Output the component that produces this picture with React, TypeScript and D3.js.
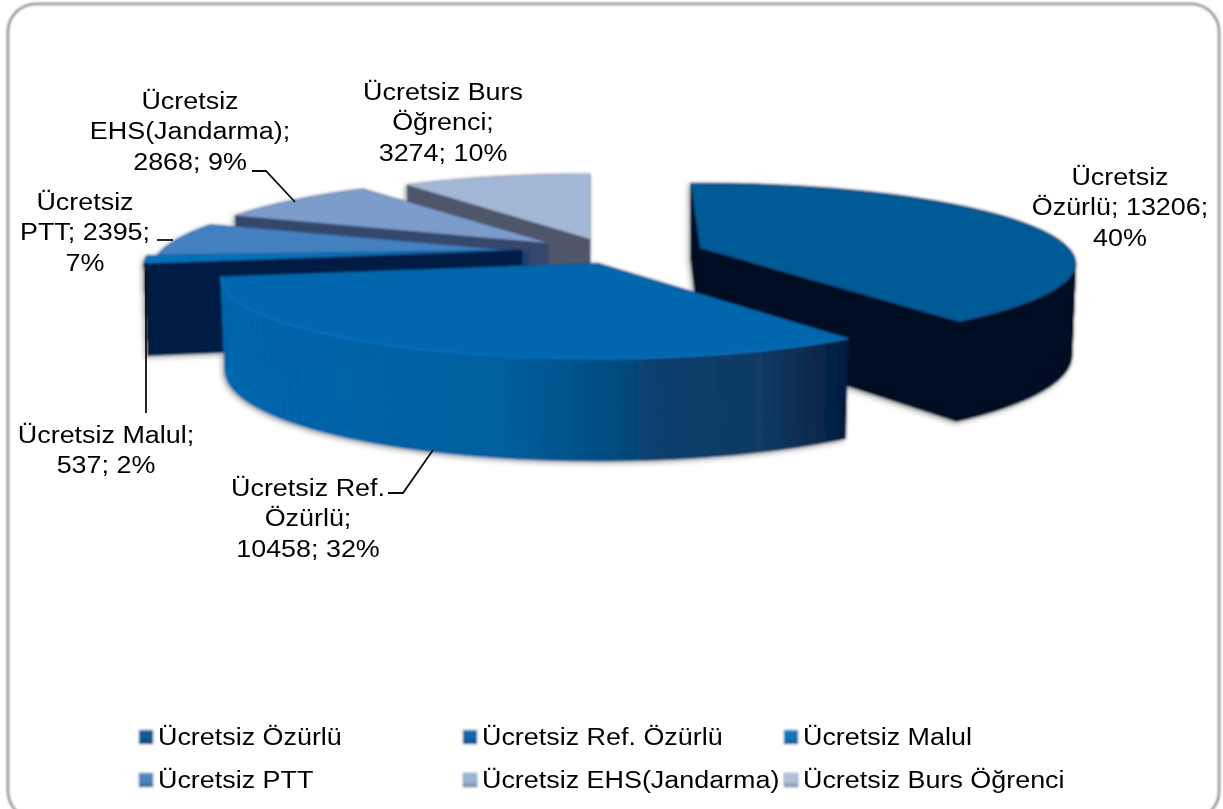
import React from "react";
import * as d3 from "d3";

const categories = ["Ücretsiz Özürlü", "Ücretsiz Ref. Özürlü", "Ücretsiz Malul", "Ücretsiz PTT", "Ücretsiz EHS(Jandarma)", "Ücretsiz Burs Öğrenci"];
const values = [13206, 10458, 537, 2395, 2868, 3274];
const percents = [40, 32, 2, 7, 9, 10];
const topColors = ["#005a96", "#0066ad", "#0072bc", "#4280c0", "#7b9ccb", "#a3b7d6"];
const wallColors = ["#000a22", "url(#refWall)", "#001f45", "#1a3f70", "#36476b", "#4f5669"];
const legendColors = ["#0a5c96", "#0a68ae", "#0a78c0", "#4a88c6", "#9db6d8", "#b4c4de"];
const apexes = [[700, 248], [598, 263], [522, 250], [528, 252], [548, 243], [590, 239]];
const radii = [369, 370, 371, 368, 363, 359];
const rotations = [-0.03, 0, 0, 0, 0, 0];
const drawOrder = [5, 4, 3, 2, 0, 1];
const labelLines = [
  ["Ücretsiz", "Özürlü; 13206;", "40%"],
  ["Ücretsiz Ref.", "Özürlü;", "10458; 32%"],
  ["Ücretsiz Malul;", "537; 2%"],
  ["Ücretsiz", "PTT; 2395;", "7%"],
  ["Ücretsiz", "EHS(Jandarma);", "2868; 9%"],
  ["Ücretsiz Burs", "Öğrenci;", "3274; 10%"],
];
const labelPos = [[1120, 185], [308, 496], [106, 443], [85, 210], [190, 109], [443, 100]];
const leaders = [
  null,
  [[388, 493], [403, 493], [433, 450]],
  [[146, 413], [146, 270]],
  [[157, 240], [173, 240]],
  [[252, 171], [266, 171], [295, 202]],
  null,
];
const legendPos = [[139, 737], [463, 737], [784, 737], [139, 780], [463, 780], [784, 780]];

const RY = 77.4, K = 0.19, DEPTH = 90, STRETCH = 1.17;
const proj = (a: number, ax: number, ay: number, rx: number, down = false): [number, number] => {
  const u = Math.sin(a), v = Math.cos(a), p = 1 / (1 + K * v);
  const x = rx * u * p, y = -RY * v * p;
  if (!down) return [ax + x, ay + y];
  return [ax + x * 0.99, ay + y + DEPTH * (1 - 0.14 * v)];
};
const pieLayout = d3.pie<number>().sort(null).startAngle(0).endAngle(Math.PI * 2)(values);
const line = d3.line();

function Slice({ i }: { i: number }) {
  const s = pieLayout[i];
  const [ax, ay] = apexes[i];
  const rx = radii[i];
  const a0 = s.startAngle + rotations[i], a1 = s.endAngle + rotations[i];
  const angles = d3.range(0, 61).map((k) => a0 + ((a1 - a0) * k) / 60);
  const top = angles.map((a) => proj(a, ax, ay, rx));
  const bottom = angles.map((a) => proj(a, ax, ay, rx, true));
  const apex: [number, number] = [ax, ay];
  const apexB: [number, number] = [ax, ay + DEPTH];
  const wall = wallColors[i];
  const solidWall = i === 1 ? "#001a3c" : wall;
  return (
    <g>
      <path d={line([apex, top[0], bottom[0], apexB])! + "Z"} fill={solidWall} stroke={solidWall} strokeWidth={0.5} />
      <path d={line([apex, top[60], bottom[60], apexB])! + "Z"} fill={solidWall} stroke={solidWall} strokeWidth={0.5} />
      {angles.slice(1).map((_, k) => (
        <path key={k} d={line([top[k], top[k + 1], bottom[k + 1], bottom[k]])! + "Z"} fill={wall} stroke={wall} strokeWidth={0.6} />
      ))}
      <path d={line([apex, ...top])! + "Z"} fill={topColors[i]} />
      {i === 1 && <path d={line(top)!} fill="none" stroke="#0a74c6" strokeWidth={1.5} />}
    </g>
  );
}

export default function App() {
  return (
    <svg width={1223} height={809} style={{ position: "fixed", left: 0, top: 0 }} fontFamily="'Liberation Sans', Arial, sans-serif">
      <defs>
        <linearGradient id="refWall" gradientUnits="userSpaceOnUse" x1={222} x2={850} y1={0} y2={0}>
          <stop offset="0" stopColor="#0066ad" />
          <stop offset="0.44" stopColor="#005f9e" />
          <stop offset="0.63" stopColor="#004b7e" />
          <stop offset="0.695" stopColor="#0c3e6c" />
          <stop offset="0.857" stopColor="#123a63" />
          <stop offset="0.936" stopColor="#0b2b50" />
          <stop offset="1" stopColor="#001a3c" />
        </linearGradient>
        <linearGradient id="legendShade" x1="0" x2="0" y1="0" y2="1">
          <stop offset="0" stopColor="#fff" stopOpacity="0.1" />
          <stop offset="0.55" stopColor="#000" stopOpacity="0" />
          <stop offset="1" stopColor="#000" stopOpacity="0.25" />
        </linearGradient>
        <filter id="soft" x="-5%" y="-5%" width="110%" height="110%">
          <feGaussianBlur stdDeviation="0.8" />
        </filter>
        <filter id="softText" x="-5%" y="-5%" width="110%" height="110%">
          <feGaussianBlur stdDeviation="0.45" />
        </filter>
        <filter id="pieShadow" x="-10%" y="-10%" width="120%" height="120%">
          <feDropShadow dx="-2" dy="2" stdDeviation="2.5" floodColor="#000" floodOpacity="0.35" />
        </filter>
      </defs>
      <rect width={1223} height={809} fill="#fff" />
      <g filter="url(#soft)">
        <rect x={8} y={4} width={1211} height={815} rx={28} fill="#fff" stroke="#8f8f92" strokeWidth={2.6} />
        <g filter="url(#pieShadow)">
          {drawOrder.map((i) => <Slice key={i} i={i} />)}
        </g>
        {categories.map((c, i) => (
          <g key={c}>
            <rect x={legendPos[i][0]} y={legendPos[i][1] - 7} width={14} height={14} fill={legendColors[i]} stroke="#6f92b8" strokeWidth={0.6} />
            <rect x={legendPos[i][0]} y={legendPos[i][1] - 7} width={14} height={14} fill="url(#legendShade)" />
          </g>
        ))}
      </g>
      <g filter="url(#softText)">
        {leaders.map((pts, i) => pts && (
          <path key={i} d={line(pts as [number, number][])!} fill="none" stroke="#111" strokeWidth={1.8} />
        ))}
        {labelLines.map((lines, i) => (
          <text key={i} transform={`translate(${labelPos[i][0]},${labelPos[i][1]}) scale(${STRETCH},1)`} textAnchor="middle" fontSize={23} fill="#000">
            {lines.map((l, k) => <tspan key={k} x={0} dy={k === 0 ? 0 : 30.5}>{l}</tspan>)}
          </text>
        ))}
        {categories.map((c, i) => (
          <text key={c} transform={`translate(${legendPos[i][0] + 19},${legendPos[i][1] + 8}) scale(${STRETCH},1)`} fontSize={23} fill="#000">{c}</text>
        ))}
      </g>
      <desc>{`${values.join(",")} ${percents.join(",")}`}</desc>
    </svg>
  );
}
